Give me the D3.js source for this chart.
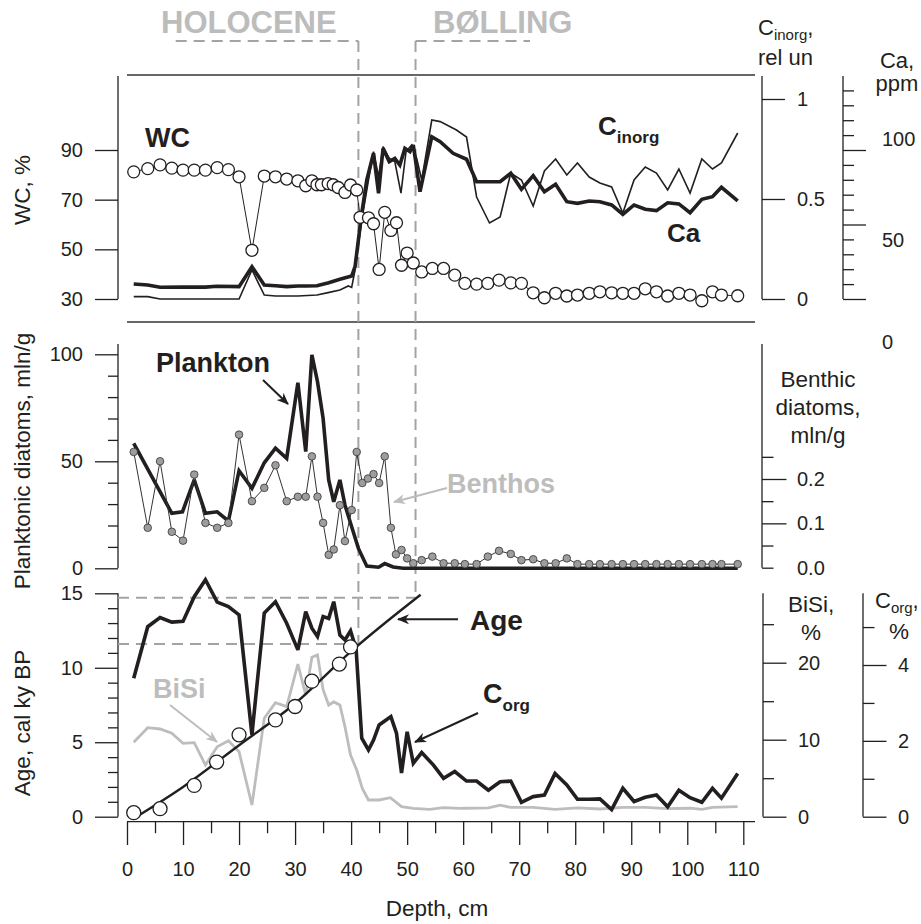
<!DOCTYPE html>
<html>
<head>
<meta charset="utf-8">
<script src="https://cdn.jsdelivr.net/npm/d3@7"></script>
<style>
body { margin: 0; background: #fff; }
text { font-family: "Liberation Sans", Arial, sans-serif; fill: #231f20; }
</style>
</head>
<body>
<div class="chart"></div>
<script>
// depth (cm), value pairs
var wcData = [[1.2,81.2],[3.7,82.5],[5.9,84],[8,82.7],[10,81.9],[12,81.9],[14,81.9],[16.1,82.9],[18.1,82.1],[20,79.2],
	[22.3,49.6],[24.5,79.5],[26.5,79.2],[28.5,78.3],[30.5,77.6],[31.9,75.6],[33,77.6],[33.9,76],[34.7,76],[35.9,76.5],
	[36.8,76],[37.7,74.9],[38.9,72.9],[39.9,75.9],[41,73.9],[41.6,62.9],[43.1,62.7],[44,60.3],[45,41.9],[46,64.9],
	[47.1,57.6],[48.1,60.7],[49,43.6],[50,48.5],[51.1,44.5],[52.6,40.9],[54.5,42.3],[56.5,42.3],[58.5,39.6],[60.3,36.3],
	[62.4,36],[64.4,36.3],[66.4,37.6],[68.5,36.5],[70.4,36.3],[72.5,32.5],[74.5,30.5],[76.5,32.3],[78.5,31.2],[80.4,31.6],
	[82.5,32.3],[84.4,32.9],[86.5,32.5],[88.5,32.3],[90.5,32.3],[92.5,34.1],[94.5,32.9],[96.5,31.2],[98.5,32.3],[100.5,31.6],
	[102.6,29.3],[104.5,32.9],[106.1,31.6],[109,31.3]];

var cinorgData = [[1.2,0.012],[3.7,0.012],[5.9,0],[20,0],[22.3,0.145],[24.5,0.02],[26.5,0.015],[30.5,0.015],[33.9,0.02],
	[35.9,0.032],[38,0.045],[39.5,0.065],[40.1,0.058],[40.7,0.145],[41.9,0.395],[43.1,0.595],[44,0.737],[44.9,0.612],
	[45.7,0.762],[46.8,0.704],[47.8,0.687],[48.9,0.529],[49.8,0.737],[50.8,0.77],[51.7,0.704],[52.6,0.595],[54.4,0.895],
	[55.9,0.887],[58.8,0.845],[60.6,0.81],[62.4,0.51],[64.7,0.38],[66.6,0.41],[68.5,0.63],[70.4,0.595],[72.5,0.465],
	[74.5,0.64],[76.5,0.70],[78.5,0.62],[80.4,0.68],[82.5,0.61],[84.4,0.58],[86.5,0.56],[88.5,0.43],[90.5,0.595],
	[92.5,0.66],[94.5,0.63],[96.5,0.545],[98.5,0.65],[100.5,0.53],[102.6,0.70],[104.5,0.65],[106.1,0.68],[109,0.83]];

var caData = [[1.2,10.1],[3.7,9.4],[5.9,7.9],[10,8],[14,8],[16,8.6],[20,8.3],[22.3,21.7],[24.5,9.4],[26.5,8.9],
	[28.5,8.3],[30.5,8.7],[32,8.7],[33.9,8.9],[36,10.9],[38,13.2],[40.1,15.4],[40.7,21.7],[41.9,57.5],[42.8,79.9],
	[44,97.8],[44.9,70.9],[45.7,101.1],[46.8,92.1],[47.8,94.4],[48.7,89.9],[49.6,101.1],[50.5,98.9],[51.1,103.4],
	[52.3,72],[54.4,108.9],[55.9,105.6],[58.2,97.8],[60.6,93.8],[62.4,78.7],[64.7,78.7],[66.6,78.7],[68.5,84.4],
	[70.4,73.6],[72.5,82.8],[74.5,72],[76.5,77],[78.5,65.3],[80.4,64.2],[82.5,65.8],[84.4,65.3],[86.5,63.1],[88.5,56.8],
	[90.5,63.1],[92.5,60.2],[94.5,59.3],[96.5,64.6],[98.5,63.8],[100.5,57.9],[102.6,66.9],[104.5,68.7],[106.1,75],[109,65.8]];

var planktonData = [[1.2,58.4],[8,25.7],[9.9,26.4],[12,41.3],[14,25.7],[16.1,26.4],[18.1,22.1],[20,45.6],[22.3,37.4],
	[24.5,49.3],[26.5,56.1],[28.5,51.4],[30.5,86.7],[31.9,54.5],[33,99.7],[34,87.2],[35,70.1],[36,41.3],[36.9,31.1],
	[38,41.3],[38.9,29.6],[40.1,19.4],[41.3,9.3],[42.8,1],[44.9,0.5],[46,2.2],[47.5,0.6],[49.3,0],[109,0]];

var benthosData = [[1.2,0.261],[3.7,0.09],[5.9,0.24],[8,0.081],[10,0.061],[12,0.21],[14,0.101],[16.1,0.09],[18.1,0.101],
	[20,0.3],[22.3,0.15],[24.5,0.18],[26.5,0.231],[28.5,0.15],[30.5,0.16],[31.9,0.16],[33,0.251],[34,0.16],[35,0.101],
	[36,0.029],[36.9,0.041],[38,0.141],[38.9,0.06],[40.1,0.13],[41,0.261],[42,0.191],[43,0.201],[44,0.211],[45,0.191],
	[46,0.251],[47.1,0.09],[48,0.03],[49,0.04],[50,0.021],[51.1,0.01],[52.6,0.017],[54.5,0.025],[56.5,0.01],[58.5,0.01],
	[60.3,0.008],[62.4,0.008],[64.4,0.025],[66.4,0.038],[68.5,0.031],[70.4,0.017],[72.5,0.019],[74.5,0.01],[76.5,0.01],
	[78.5,0.021],[80.4,0.008],[82.5,0.008],[84.4,0.008],[86.5,0.008],[88.5,0.008],[90.5,0.008],[92.5,0.008],[94.5,0.008],
	[96.5,0.008],[98.5,0.008],[100.5,0.008],[102.6,0.008],[104.5,0.008],[106.1,0.008],[109,0.008]];

var corgData = [[1.2,3.65],[3.7,5.01],[5.9,5.25],[8,5.13],[10,5.15],[12,5.8],[14,6.25],[16.1,5.66],[18.1,5.54],[20,5.32],
	[22.3,2.16],[24.5,5.37],[26.5,5.67],[28.5,5.1],[30.5,4.4],[31.9,5.41],[33,4.97],[34,4.75],[35,5.28],[36,5.23],
	[36.9,5.67],[38,4.79],[38.9,4.66],[39.9,4.9],[40.4,4.66],[40.9,4.4],[41.9,2.07],[43.1,1.76],[44,2.02],[45,2.42],
	[47.1,2.64],[48.1,2.2],[49,1.15],[50,2.24],[51.1,1.41],[52.6,1.69],[54.7,1.36],[56.5,1.01],[58.5,1.19],[60.6,0.94],
	[62.4,0.94],[64.5,0.7],[66.6,0.92],[68.5,0.94],[70.4,0.38],[72.5,0.53],[74.5,0.57],[76.4,1.14],[78.5,0.84],[80.4,0.46],
	[82.5,0.46],[84.4,0.47],[86.5,0.19],[88.5,0.75],[90.5,0.4],[92.5,0.51],[94.5,0.57],[96.5,0.26],[98.5,0.7],[100.5,0.5],
	[102.6,0.38],[104.5,0.75],[106.1,0.49],[109,1.14]];

var bisiData = [[1.2,9.66],[3.7,11.56],[5.9,11.39],[8,10.83],[10,9.53],[12,9.61],[14,6.71],[16.1,9.09],[18.1,9.87],[20,8.44],
	[22.3,1.52],[24.5,12.78],[26.5,14.8],[28.5,14.29],[30.5,19.83],[31.9,15.8],[33,20.7],[34,21],[35,16.5],[36,14.5],
	[36.9,14.9],[38,14.5],[38.9,11.7],[39.9,8],[41,6.06],[42,3.68],[43.1,2.17],[45,2.17],[47,2.47],[49,1.3],[51.1,1.09],
	[54,0.96],[56.5,1.17],[59.4,1.09],[60.6,1.1],[64.5,1.15],[66.6,1.5],[68.5,1.2],[72.5,1.2],[76.4,0.95],[80.4,1.15],
	[84.4,1],[88.5,1.2],[92.5,1.2],[96.5,1.05],[100.5,1.1],[102.6,0.95],[104.5,1.2],[109,1.3]];

// dated levels and the age-depth curve
var agePoints = [[1.2,0.27],[5.9,0.54],[12,2.1],[16,3.67],[20,5.5],[26.5,6.5],[30,7.4],[33,9.1],[37.9,10.25],[39.9,11.4]];
var ageCurve = [[1.7,0],[10,2],[20,4.8],[30,7.6],[40,11.1],[52.4,14.9]];

// stage boundaries: depth (cm) and age (ky)
var boundaries = [{name: 'HOLOCENE', depth: 41.3, age: 11.6}, {name: 'BØLLING', depth: 51.5, age: 14.7}];

var depthTicks = d3.range(0, 111, 10);

var svg = d3.select('.chart').append('svg')
	.attr('width', 921)
	.attr('height', 924);

var ink = '#231f20', grey = '#bdbdbd', dash = '#a3a3a3';

var x = d3.scaleLinear().domain([0, 110]).range([127, 743.3]);
var yWC = d3.scaleLinear().domain([30, 90]).range([299, 150]);
var yCin = d3.scaleLinear().domain([0, 1]).range([299, 99]);
var yCa = d3.scaleLinear().domain([0, 100]).range([299, 150]);
var yCaLab = d3.scaleLinear().domain([0, 100]).range([342, 139]);
var yPl = d3.scaleLinear().domain([0, 100]).range([568.3, 354.3]);
var yBen = d3.scaleLinear().domain([0, 0.2]).range([567.7, 479]);
var yAge = d3.scaleLinear().domain([0, 15]).range([816.7, 593.3]);
var yBiSi = d3.scaleLinear().domain([0, 20]).range([816.7, 662.7]);
var yCorg = d3.scaleLinear().domain([0, 4]).range([816.7, 665]);

var defs = svg.append('defs');
[['arrowInk', ink], ['arrowGrey', grey]].forEach(function(m){
	defs.append('marker')
		.attr('id', m[0])
		.attr('viewBox', '0 0 12 10')
		.attr('refX', 11).attr('refY', 5)
		.attr('markerWidth', 13).attr('markerHeight', 10)
		.attr('markerUnits', 'userSpaceOnUse')
		.attr('orient', 'auto')
		.append('path')
		.attr('d', 'M0,0 L12,5 L0,10 L3.5,5 Z')
		.style('fill', m[1]);
});

//Axis helper: plain line, minor ticks, major ticks and labels in separate groups
function vAxis(side, xPos, scale, top, bottom, major, minor, majLen, minLen, labels, fmt, pad){
	var g = svg.append('g').attr('transform', 'translate(' + xPos + ',0)');
	var make = side === 'left' ? d3.axisLeft : d3.axisRight;
	g.append('line')
		.attr('y1', top).attr('y2', bottom)
		.style('stroke', ink).style('stroke-width', 1.3);
	if (minor.length) {
		g.append('g').call(make(scale).tickValues(minor).tickSize(minLen).tickFormat(''));
	}
	g.append('g').call(make(scale).tickValues(major).tickSize(majLen).tickFormat(''));
	g.append('g').call(make(scale).tickValues(labels).tickSize(0).tickPadding(pad || 35).tickFormat(fmt || d3.format('')));
	g.selectAll('.domain').remove();
	g.selectAll('.tick line').style('stroke', ink).style('stroke-width', 1.3);
	g.selectAll('.tick text')
		.attr('font-size', 20)
		.style('font-family', '"Liberation Sans", Arial, sans-serif')
		.style('fill', ink);
	return g;
}

// panel frame lines
[75, 322].forEach(function(yy){
	svg.append('line')
		.attr('x1', 127).attr('x2', 755)
		.attr('y1', yy).attr('y2', yy)
		.style('stroke', '#333').style('stroke-width', 1.3);
});

// left axes
vAxis('left', 118, yWC, 76, 299, [30, 50, 70, 90], [], 23, 10, [30, 50, 70, 90]);
vAxis('left', 118, yPl, 344, 568.3, [0, 50, 100], d3.range(10, 100, 10).filter(function(d){ return d !== 50; }), 23, 10, [0, 50, 100]);
vAxis('left', 118, yAge, 593.3, 816.7, [0, 5, 10, 15], d3.range(1, 15).filter(function(d){ return d % 5; }), 23, 10, [0, 5, 10, 15]);

// right axes
vAxis('right', 762, yCin, 76, 299, [0, 0.5, 1], [], 23, 11, [0, 0.5, 1], function(d){ return d === 0.5 ? '0.5' : d; });
var caAxis = vAxis('right', 843, yCa, 76, 299, [0, 50, 100], d3.range(10, 150, 10).filter(function(d){ return d % 50; }), 23, 11, []);
caAxis.append('g').call(d3.axisRight(yCaLab).tickValues([0, 50, 100]).tickSize(0).tickPadding(39))
	.call(function(g){ g.select('.domain').remove(); })
	.selectAll('text').attr('font-size', 20).style('font-family', '"Liberation Sans", Arial, sans-serif').style('fill', ink);
vAxis('right', 762, yBen, 344, 567.7, [0.1, 0.2], [0, 0.05, 0.15, 0.25], 24.5, 11.5, [0, 0.1, 0.2], d3.format('.1f'));
vAxis('right', 763, yBiSi, 593.3, 816.7, [0, 10, 20], [5, 15, 25], 23.5, 11, [0, 10, 20]);
vAxis('right', 863, yCorg, 593.3, 816.7, [0, 2, 4], [1, 3, 5], 23.5, 11.5, [0, 2, 4]);

// depth axis
var xg = svg.append('g').attr('transform', 'translate(0,821.7)');
xg.append('line').attr('x1', 127).attr('x2', 755).style('stroke', ink).style('stroke-width', 1.3);
xg.append('g').call(d3.axisBottom(x).tickValues(d3.range(5, 110, 10)).tickSize(11.5).tickFormat(''));
xg.append('g').call(d3.axisBottom(x).tickValues(depthTicks).tickSize(23.3).tickPadding(17).tickFormat(d3.format('')));
xg.selectAll('.domain').remove();
xg.selectAll('.tick line').style('stroke', ink).style('stroke-width', 1.3);
xg.selectAll('.tick text').attr('font-size', 20).style('font-family', '"Liberation Sans", Arial, sans-serif').style('fill', ink);

// stage boundaries (dashed)
var bnd = svg.append('g')
	.style('stroke', dash).style('stroke-width', 2).style('stroke-dasharray', '11,7').style('fill', 'none');
bnd.append('line').attr('x1', 175.7).attr('x2', x(boundaries[0].depth)).attr('y1', 41).attr('y2', 41);
bnd.append('line').attr('x1', x(boundaries[1].depth)).attr('x2', 530).attr('y1', 41).attr('y2', 41);
boundaries.forEach(function(b){
	bnd.append('line').attr('x1', x(b.depth)).attr('x2', x(b.depth)).attr('y1', 41).attr('y2', yAge(b.age));
	bnd.append('line').attr('x1', 118).attr('x2', x(b.depth)).attr('y1', yAge(b.age)).attr('y2', yAge(b.age));
});
svg.append('text').attr('x', 161).attr('y', 33).attr('font-size', 31).attr('font-weight', 'bold')
	.style('fill', '#bcbcbc').text(boundaries[0].name);
svg.append('text').attr('x', 433).attr('y', 33).attr('font-size', 31).attr('font-weight', 'bold')
	.style('fill', '#bcbcbc').text(boundaries[1].name);

function line(ys){
	return d3.line().x(function(d){ return x(d[0]); }).y(function(d){ return ys(d[1]); });
}
function path(data, ys, color, width){
	svg.append('path').datum(data)
		.attr('d', line(ys))
		.style('fill', 'none').style('stroke', color).style('stroke-width', width)
		.style('stroke-linejoin', 'miter').style('stroke-miterlimit', 3);
}

// top panel
path(cinorgData, yCin, ink, 1.6);
path(caData, yCa, ink, 3.6);
path(wcData, yWC, ink, 1);
svg.append('g').selectAll('circle').data(wcData).enter().append('circle')
	.attr('cx', function(d){ return x(d[0]); })
	.attr('cy', function(d){ return yWC(d[1]); })
	.attr('r', 6)
	.style('fill', '#fff').style('stroke', ink).style('stroke-width', 1.3);

// middle panel
path(planktonData, yPl, ink, 3.6);
path(benthosData, yBen, '#333', 1);
svg.append('g').selectAll('circle').data(benthosData).enter().append('circle')
	.attr('cx', function(d){ return x(d[0]); })
	.attr('cy', function(d){ return yBen(d[1]); })
	.attr('r', 3.8)
	.style('fill', '#9d9d9d').style('stroke', '#333').style('stroke-width', 0.8);

// bottom panel
path(bisiData, yBiSi, grey, 2.8);
path(corgData, yCorg, ink, 3.6);
svg.append('path').datum(ageCurve)
	.attr('d', d3.line().curve(d3.curveMonotoneX).x(function(d){ return x(d[0]); }).y(function(d){ return yAge(d[1]); }))
	.style('fill', 'none').style('stroke', ink).style('stroke-width', 2.4);
svg.append('g').selectAll('circle').data(agePoints).enter().append('circle')
	.attr('cx', function(d){ return x(d[0]); })
	.attr('cy', function(d){ return yAge(d[1]); })
	.attr('r', 7)
	.style('fill', '#fff').style('stroke', ink).style('stroke-width', 1.3);

// series labels
function label(px, py, size, txt, sub, color){
	var t = svg.append('text').attr('x', px).attr('y', py).attr('font-size', size)
		.attr('font-weight', 'bold').style('fill', color || ink);
	t.append('tspan').text(txt);
	if (sub) t.append('tspan').attr('font-size', 17).attr('dy', 8).text(sub);
}
label(145, 147, 27, 'WC');
label(598, 135, 26, 'C', 'inorg');
label(667, 242, 26, 'Ca');
label(156, 372, 27, 'Plankton');
label(447, 493, 27, 'Benthos', null, grey);
label(470, 630, 28, 'Age');
label(153, 698, 27, 'BiSi', null, grey);
label(483, 703, 27, 'C', 'org');

function arrow(x1, y1, x2, y2, color, id){
	svg.append('line')
		.attr('x1', x1).attr('y1', y1).attr('x2', x2).attr('y2', y2)
		.style('stroke', color).style('stroke-width', 2)
		.attr('marker-end', 'url(#' + id + ')');
}
arrow(263, 380, 288, 404, ink, 'arrowInk');
arrow(447, 488, 394, 502, grey, 'arrowGrey');
arrow(458, 619.3, 398, 619.3, ink, 'arrowInk');
arrow(170, 705, 217, 742, grey, 'arrowGrey');
arrow(478, 713, 415, 742, ink, 'arrowInk');

// axis titles
function title(px, py, lines, rotate, anchor){
	var t = svg.append('text').attr('font-size', 22.5).attr('text-anchor', anchor || 'middle')
		.attr('transform', 'translate(' + px + ',' + py + ')' + (rotate ? ' rotate(-90)' : ''));
	lines.forEach(function(l, i){
		t.append('tspan').attr('x', 0).attr('dy', i ? 28 : 0).text(l);
	});
	return t;
}
title(29.5, 190, ['WC, %'], true);
title(30, 461, ['Planktonic diatoms, mln/g'], true);
title(29.5, 723, ['Age, cal ky BP'], true);
title(437, 916, ['Depth, cm']);
title(818, 387, ['Benthic', 'diatoms,', 'mln/g']);

var cin = svg.append('text').attr('x', 758).attr('y', 35).attr('font-size', 22);
cin.append('tspan').text('C');
cin.append('tspan').attr('font-size', 15).attr('dy', 5).text('inorg');
cin.append('tspan').attr('dy', -5).text(',');
title(758, 65, ['rel un'], false, 'start').attr('font-size', 22);
title(897, 68, ['Ca,'], false).attr('font-size', 22);
title(897, 91, ['ppm'], false).attr('font-size', 22);
title(811, 612, ['BiSi,', '%'], false).attr('font-size', 22.5);
var corg = svg.append('text').attr('x', 875).attr('y', 608).attr('font-size', 22);
corg.append('tspan').text('C');
corg.append('tspan').attr('font-size', 15).attr('dy', 5).text('org');
corg.append('tspan').attr('dy', -5).text(',');
title(899, 639, ['%'], false).attr('font-size', 22.5);
</script>
</body>
</html>
